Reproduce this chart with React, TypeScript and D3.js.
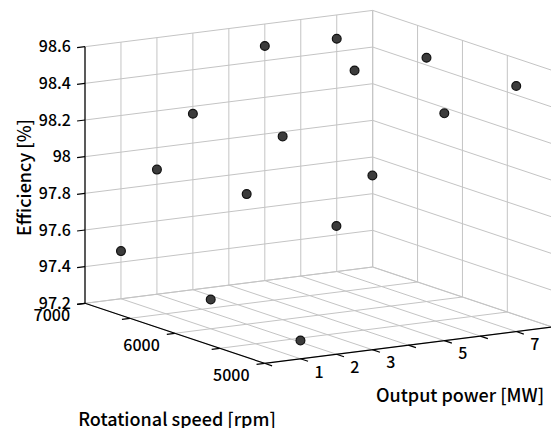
import React from "react";
import * as d3 from "d3";

// ---- Data ----
const POWER = [1, 2, 3, 5, 7]; // Output power [MW]
const SPEEDS = [7000, 6000, 5000]; // Rotational speed [rpm]
const EFF_7000 = [97.46, 97.88, 98.16, 98.48, 98.47];
const EFF_6000 = [97.36, 97.91, 98.2, 98.51, 98.53];
const EFF_5000 = [97.3, 97.9, 98.15, 98.44, 98.54];
const EFF_BY_SPEED = [EFF_7000, EFF_6000, EFF_5000];

const POWER_TICKS = [0, 1, 2, 3, 4, 5, 6, 7, 8];
const POWER_TICK_LABELS = ["", "1", "2", "3", "", "5", "", "7", ""];
const SPEED_TICKS = [7000, 6500, 6000, 5500, 5000];
const SPEED_TICK_LABELS = ["7000", "", "6000", "", "5000"];
const EFF_TICKS = [97.2, 97.4, 97.6, 97.8, 98, 98.2, 98.4, 98.6];
const EFF_TICK_LABELS = ["97.2", "97.4", "97.6", "97.8", "98", "98.2", "98.4", "98.6"];

// ---- Layout (projection basis) ----
const W = 551;
const H = 428;
const ORIGIN = [85, 303.3]; // power=0, rpm=7000, eff=97.2
const VP = [287.7, -36.3]; // full power range
const VR = [179.5, 60]; // full rpm range (7000 -> 5000)
const VZ = [0, -256.6]; // full efficiency range

const pS = d3.scaleLinear().domain([0, 8]).range([0, 1]);
const rS = d3.scaleLinear().domain([7000, 5000]).range([0, 1]);
const zS = d3.scaleLinear().domain([97.2, 98.6]).range([0, 1]);

function proj(p: number, r: number, z: number): [number, number] {
  const u = pS(p), v = rS(r), w = zS(z);
  return [
    ORIGIN[0] + u * VP[0] + v * VR[0] + w * VZ[0],
    ORIGIN[1] + u * VP[1] + v * VR[1] + w * VZ[1],
  ];
}

const FONT = "'Noto Sans CJK JP', 'Noto Sans', sans-serif";
const GRID = "#c4c4c4";

export default function App() {
  const pMin = 0, pMax = 8, rBack = 7000, rFront = 5000, zMin = 97.2, zMax = 98.6;
  const lines: { a: [number, number]; b: [number, number]; key: string }[] = [];
  // left wall (rpm = 7000)
  POWER_TICKS.forEach((p) => lines.push({ a: proj(p, rBack, zMin), b: proj(p, rBack, zMax), key: `lwv${p}` }));
  EFF_TICKS.forEach((z) => lines.push({ a: proj(pMin, rBack, z), b: proj(pMax, rBack, z), key: `lwh${z}` }));
  // right wall (power = 8)
  SPEED_TICKS.forEach((r) => lines.push({ a: proj(pMax, r, zMin), b: proj(pMax, r, zMax), key: `rwv${r}` }));
  EFF_TICKS.forEach((z) => lines.push({ a: proj(pMax, rBack, z), b: proj(pMax, rFront, z), key: `rwh${z}` }));
  // floor
  POWER_TICKS.forEach((p) => lines.push({ a: proj(p, rBack, zMin), b: proj(p, rFront, zMin), key: `fp${p}` }));
  SPEED_TICKS.forEach((r) => lines.push({ a: proj(pMin, r, zMin), b: proj(pMax, r, zMin), key: `fr${r}` }));

  const pLen = Math.hypot(VP[0], VP[1]);
  const rLen = Math.hypot(VR[0], VR[1]);
  const tickL = 8;
  const negP = [(-VP[0] / pLen) * tickL, (-VP[1] / pLen) * tickL];
  const posR = [(VR[0] / rLen) * tickL, (VR[1] / rLen) * tickL];

  const points: { x: number; y: number; key: string }[] = [];
  SPEEDS.forEach((r, si) => {
    POWER.forEach((p, pi) => {
      const [x, y] = proj(p, r, EFF_BY_SPEED[si][pi]);
      points.push({ x, y, key: `${r}-${p}` });
    });
  });

  const zAxisTop = proj(pMin, rBack, zMax);
  const zAxisBot = proj(pMin, rBack, zMin);
  const corner = proj(pMin, rFront, zMin);
  const pEnd = proj(pMax, rFront, zMin);

  return (
    <svg
      width={W}
      height={H}
      style={{ position: "absolute", left: 0, top: 0, background: "#fff" }}
      fontFamily={FONT}
    >
      <g stroke={GRID} strokeWidth={1} fill="none">
        {lines.map((l) => (
          <line key={l.key} x1={l.a[0]} y1={l.a[1]} x2={l.b[0]} y2={l.b[1]} />
        ))}
      </g>
      {/* axes */}
      <g stroke="#000" strokeWidth={1.2} fill="none">
        <line x1={zAxisTop[0]} y1={zAxisTop[1]} x2={zAxisBot[0]} y2={zAxisBot[1]} />
        <line x1={zAxisBot[0]} y1={zAxisBot[1]} x2={corner[0]} y2={corner[1]} />
        <line x1={corner[0]} y1={corner[1]} x2={pEnd[0]} y2={pEnd[1]} />
        {EFF_TICKS.map((z) => {
          const [x, y] = proj(pMin, rBack, z);
          return <line key={`zt${z}`} x1={x} y1={y} x2={x + negP[0]} y2={y + negP[1]} />;
        })}
        {SPEED_TICKS.map((r) => {
          const [x, y] = proj(pMin, r, zMin);
          return <line key={`rt${r}`} x1={x} y1={y} x2={x + negP[0]} y2={y + negP[1]} />;
        })}
        {POWER_TICKS.map((p) => {
          const [x, y] = proj(p, rFront, zMin);
          return <line key={`pt${p}`} x1={x} y1={y} x2={x + posR[0]} y2={y + posR[1]} />;
        })}
      </g>
      {/* tick labels */}
      <g fontSize={16} fill="#000" fontWeight={500}>
        {EFF_TICKS.map((z, i) => {
          const [x, y] = proj(pMin, rBack, z);
          return (
            <text key={`zl${z}`} x={x - 14} y={y} dy="0.36em" textAnchor="end">
              {EFF_TICK_LABELS[i]}
            </text>
          );
        })}
        {SPEED_TICKS.map((r, i) => {
          const [x, y] = proj(pMin, r, zMin);
          return (
            <text key={`rl${r}`} x={x - 15} y={y + 12} dy="0.36em" textAnchor="end">
              {SPEED_TICK_LABELS[i]}
            </text>
          );
        })}
        {POWER_TICKS.map((p, i) => {
          const [x, y] = proj(p, rFront, zMin);
          return (
            <text key={`pl${p}`} x={x + 18.5} y={y + 13} dy="0.36em" textAnchor="middle">
              {POWER_TICK_LABELS[i]}
            </text>
          );
        })}
      </g>
      {/* axis titles */}
      <g fontSize={18} fill="#000" fontWeight={500}>
        <text x={460} y={402} textAnchor="middle">Output power [MW]</text>
        <text x={177} y={426} textAnchor="middle">Rotational speed [rpm]</text>
        <text transform="translate(31,177.5) rotate(-90)" textAnchor="middle">Efficiency [%]</text>
      </g>
      {/* points */}
      <g fill="#3c3c3c" stroke="#111" strokeWidth={1.2}>
        {points.map((pt) => (
          <circle key={pt.key} cx={pt.x} cy={pt.y} r={4.4} />
        ))}
      </g>
    </svg>
  );
}
